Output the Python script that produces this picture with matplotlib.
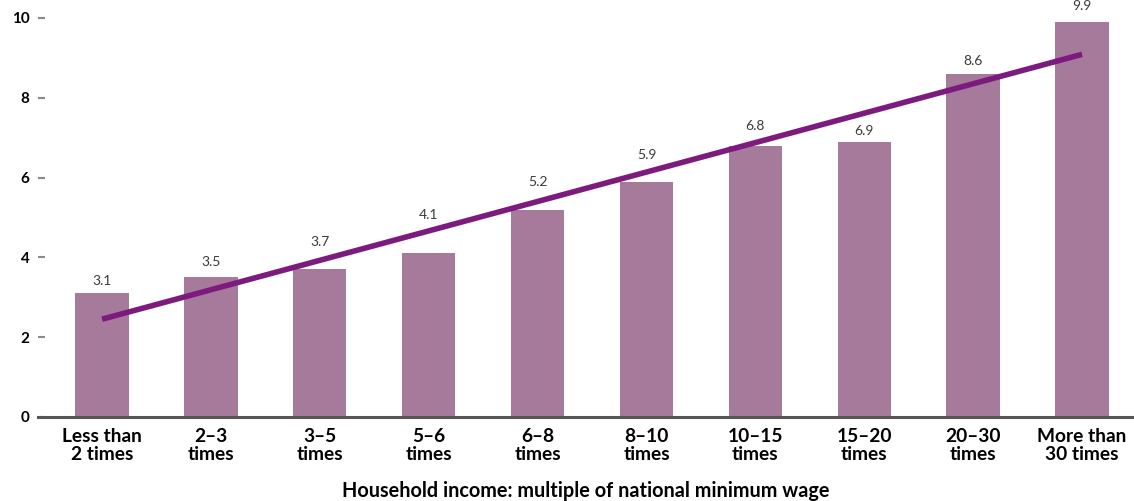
import numpy as np
import matplotlib
matplotlib.use("Agg")
import matplotlib.pyplot as plt

plt.rcParams['font.family'] = ['Lato', 'DejaVu Sans']

categories = ["Less than\n2 times", "2\u20133\ntimes", "3\u20135\ntimes", "5\u20136\ntimes",
              "6\u20138\ntimes", "8\u201310\ntimes", "10\u201315\ntimes", "15\u201320\ntimes",
              "20\u201330\ntimes", "More than\n30 times"]
values = [3.1, 3.5, 3.7, 4.1, 5.2, 5.9, 6.8, 6.9, 8.6, 9.9]
y_ticks = [0, 2, 4, 6, 8, 10]
x_title = "Household income: multiple of national minimum wage"

# vertical offset (points) of each value label above its bar, clearing the trend line
label_lift = [9, 11, 19.5, 27.5, 19.5, 19, 14, 7.5, 9.5, 11.5]

bar_color = "#a67a9b"
trend_color = "#7d1a7d"

fig = plt.figure(figsize=(11.34, 5.01), dpi=100)
ax = fig.add_axes([38 / 1134, 1 - 417 / 501, 1 - 38 / 1134, (417 - 10) / 501])

x = np.arange(len(values))
ax.bar(x, values, width=0.49, color=bar_color, zorder=2)

# Linear trend through the bar values
slope, intercept = np.polyfit(x, values, 1)
ax.plot(x[[0, -1]], intercept + slope * x[[0, -1]], color=trend_color,
        linewidth=4.0, solid_capstyle='butt', zorder=3)

for xi, v, lift in zip(x, values, label_lift):
    ax.annotate(f"{v:.1f}", xy=(xi, v), xytext=(0, lift), textcoords='offset points',
                ha='center', va='center', fontsize=10, color="#3a3a3a", zorder=4)

ax.set_xlim(-0.588, 9.477)
ax.set_ylim(0, 10.2)
ax.set_yticks(y_ticks)
ax.set_yticklabels([str(t) for t in y_ticks], fontweight='bold', fontsize=11)
ax.set_xticks(x)
ax.set_xticklabels(categories, fontweight='bold', fontsize=13.8, linespacing=1.03)
ax.tick_params(axis='x', length=0, pad=8)
ax.tick_params(axis='y', direction='in', length=5, width=1.5, color="#8a8a8a", pad=6)
ax.set_xlabel(x_title, fontweight='bold', fontsize=14.3, labelpad=13)

for side in ['top', 'right', 'left']:
    ax.spines[side].set_visible(False)
ax.spines['bottom'].set_color("#555555")
ax.spines['bottom'].set_linewidth(2.2)
ax.spines['bottom'].set_zorder(4)

fig.savefig("out.png", dpi=100)
